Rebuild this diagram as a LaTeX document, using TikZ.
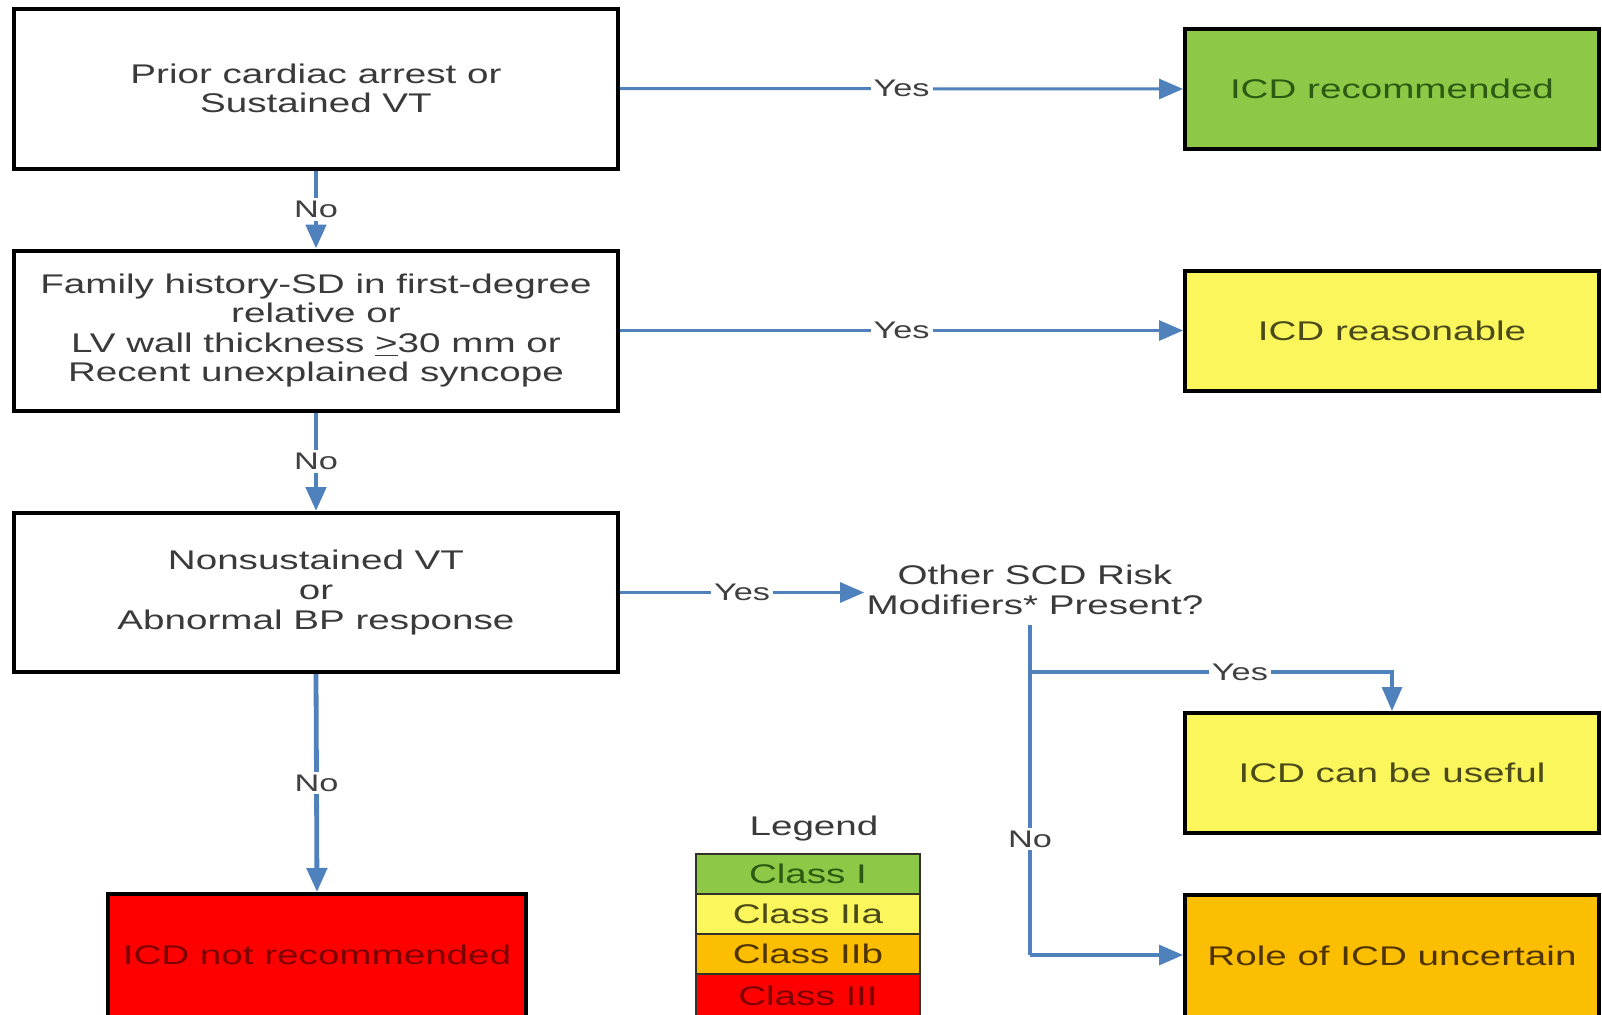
\documentclass[tikz,border=0pt]{standalone}
\usepackage{fontspec}
\setmainfont[FakeStretch=1.43]{Liberation Sans}
\usetikzlibrary{arrows.meta,positioning}
\definecolor{arrowblue}{RGB}{79,129,189}
\definecolor{cgreen}{RGB}{141,201,70}
\definecolor{cyellow}{RGB}{250,246,92}
\definecolor{corange}{RGB}{252,190,0}
\definecolor{cred}{RGB}{255,0,0}
\definecolor{tgray}{RGB}{58,58,58}
\definecolor{tgreen}{RGB}{45,90,18}
\definecolor{tyellow}{RGB}{74,74,26}
\definecolor{torange}{RGB}{80,52,0}
\definecolor{tred}{RGB}{125,0,0}
\definecolor{lgray}{RGB}{64,64,64}
\tikzset{
  x=0.5pt, y=-0.5pt,
  boxtext/.style={font=\fontsize{13.5}{14.8}\selectfont},
  qbox/.style={draw=black, line width=2pt, fill=white, text=tgray, boxtext,
    minimum width=302pt, minimum height=80pt, inner sep=0pt, align=center},
  rbox/.style={draw=black, line width=2pt, boxtext,
    minimum width=207pt, minimum height=60pt, inner sep=0pt, align=center},
  conn/.style={draw=arrowblue, line width=1.5pt,
    -{Triangle[length=12pt,width=10pt]}},
  vconn/.style={conn, line width=2.4pt},
  plain/.style={draw=arrowblue, line width=1.6pt},
  lbl/.style={fill=white, text=lgray, inner sep=1.5pt,
    font=\fontsize{12}{13}\selectfont},
  legrow/.style={draw={rgb,255:red,50;green,50;blue,40}, line width=1.2pt, boxtext,
    minimum width=112pt, minimum height=20pt, inner sep=0pt}
}
\begin{document}
\begin{tikzpicture}
\useasboundingbox (0,0) rectangle (1602,1014);
\clip (0,0) rectangle (1602,1014);
\fill[white] (0,0) rectangle (1602,1014);

% question boxes
\node[qbox] (b1) at (316,88.5) {Prior cardiac arrest or\\Sustained VT};
\node[qbox] (b2) at (316,330.5) {Family history-SD in first-degree\\relative or\\LV wall thickness \underline{>}30 mm or\\Recent unexplained syncope};
\node[qbox, minimum height=79.5pt] (b3) at (316,592.5) {Nonsustained VT\\or\\Abnormal BP response};

% result boxes
\node[rbox, fill=cgreen, text=tgreen] (rec) at (1392,89) {ICD recommended};
\node[rbox, fill=cyellow, text=tyellow] (reas) at (1392,330.5) {ICD reasonable};
\node[rbox, fill=cyellow, text=tyellow] (useful) at (1392,773) {ICD can be useful};
\node[rbox, fill=corange, text=torange, minimum height=64pt] (role) at (1392,959) {\raisebox{3pt}{Role of ICD uncertain}};
\node[rbox, fill=cred, text=tred, minimum width=209pt, minimum height=64pt] (notrec) at (317,958) {\raisebox{3pt}{ICD not recommended}};

% SCD question
\node[boxtext, text=tgray, align=center, inner sep=1pt] (scd) at (1035,590) {Other SCD Risk\\Modifiers* Present?};

% legend
\node[boxtext, text=tgray] (legtitle) at (814,829) {Legend};
\node[legrow, fill=cgreen, text=tgreen] (c1) at (808,874) {Class I};
\node[legrow, fill=cyellow, text=tyellow] (c2) at (808,914) {Class IIa};
\node[legrow, fill=corange, text=torange] (c3) at (808,954) {Class IIb};
\node[legrow, fill=cred, text=tred, minimum height=24pt] (c4) at (808,998) {\raisebox{2.5pt}{Class III}};

% connectors: yes branches
\draw[conn] (b1.east) -- node[lbl]{Yes} (rec.west);
\draw[conn] (b2.east) -- node[lbl]{Yes} (reas.west);
\draw[conn] (b3.east) -- node[lbl]{Yes} (scd.west |- b3.east);

% connectors: no branches
\draw[vconn] (b1.south) -- node[lbl]{No} (b2.north);
\draw[vconn] (b2.south) -- node[lbl]{No} (b3.north);
\draw[vconn] (b3.south) -- node[lbl]{No} (notrec.north);

% SCD branches
\coordinate (scdtop) at (1030,625);
\coordinate (split) at (1030,672);
\coordinate (corner) at (1030,955);
\draw[plain] (scdtop) -- (split) -- node[lbl, pos=0.59]{No} (corner);
\draw[conn, line width=1.6pt] (corner) -- (corner -| role.west);
\draw[conn, line width=1.6pt] (split) -- node[lbl, pos=0.58]{Yes} (split -| useful.north) -- (useful.north);
\end{tikzpicture}
\end{document}
